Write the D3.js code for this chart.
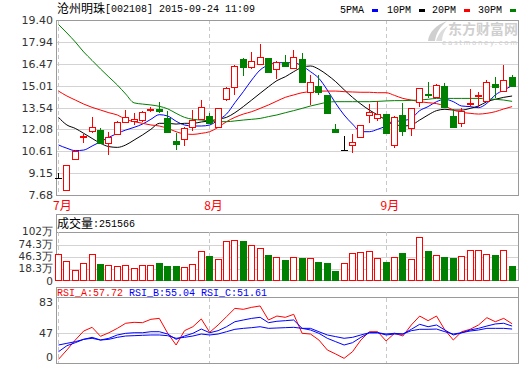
<!DOCTYPE html>
<html><head><meta charset="utf-8">
<script src="https://cdn.jsdelivr.net/npm/d3@7"></script>
<style>body{margin:0;background:#fff}svg{display:block}</style>
</head><body>
<svg id="c" width="520" height="365"></svg>
<script>
// ---------------- data ----------------
const stockName = "沧州明珠";
const stockCode = "[002108]";
const stamp = "2015-09-24 11:09";
const dates = ["07-08","07-09","07-10","07-13","07-14","07-15","07-16","07-17","07-20","07-21","07-22","07-23","07-24","07-27","07-28","07-29","07-30","07-31",
"08-03","08-04","08-05","08-06","08-07","08-10","08-11","08-12","08-13","08-14","08-17","08-18","08-19","08-20","08-21","08-24","08-25","08-26","08-27","08-28","08-31",
"09-01","09-02","09-07","09-08","09-09","09-10","09-11","09-14","09-15","09-16","09-17","09-18","09-21","09-22","09-23","09-24"];
const open  = [8.84,8.01,10.07,11.62,11.97,12.03,11.14,11.77,12.59,12.64,12.70,13.36,13.42,12.84,11.30,11.41,12.21,12.77,12.97,12.21,14.09,14.89,16.77,16.23,16.43,16.83,16.10,16.57,16.16,16.77,14.60,14.98,14.38,12.08,10.69,11.03,11.59,13.04,12.81,13.10,11.01,13.04,12.14,13.93,14.47,14.27,14.98,12.97,12.52,13.80,14.36,14.00,15.09,14.67,15.56];
const high  = [9.13,9.69,10.70,11.74,12.88,12.14,11.92,12.64,13.37,13.19,13.31,13.60,13.89,13.33,11.85,12.26,13.37,14.04,13.19,13.50,14.94,16.39,16.83,17.28,17.77,16.83,16.68,17.06,17.39,17.21,15.72,15.72,14.40,12.43,11.63,11.74,12.37,13.77,14.00,13.12,12.97,13.82,13.50,14.84,15.27,15.11,15.20,13.42,13.48,14.76,14.56,15.38,15.60,16.39,15.72];
const low   = [8.84,7.97,10.05,11.14,11.85,11.10,10.36,11.70,12.48,12.37,12.59,13.26,13.19,11.85,10.69,10.96,11.99,12.70,12.43,12.14,14.00,14.38,15.65,16.10,16.39,15.87,15.43,16.32,16.10,15.20,13.71,14.38,13.15,11.85,10.69,10.47,11.52,12.52,12.66,11.77,10.80,11.65,11.63,13.60,14.15,14.15,13.55,12.14,12.21,13.64,13.60,13.93,14.15,14.60,14.94];
const close = [8.84,9.69,10.63,11.66,12.26,11.14,11.59,12.57,12.88,12.77,13.24,13.42,13.33,11.92,11.12,12.14,12.70,13.55,12.48,13.48,14.82,16.34,16.28,16.68,16.90,15.94,16.57,16.34,16.90,15.27,15.27,14.60,13.19,11.92,10.69,11.21,12.35,13.26,13.10,11.81,12.93,11.99,13.48,14.82,14.40,15.05,13.60,12.21,13.33,13.84,14.40,15.27,14.94,15.38,15.00];
// volume in 万 shares
const volume = [53.3,37,16.6,32.3,53.3,30,27.6,25.3,27.6,20.6,27.6,27.6,32.3,25.3,25.3,23,30,60.3,48.6,41.6,82.8,85,82.8,74.3,66.6,51,45.6,39.3,45.6,44,43.2,34.6,32.3,15,31.5,55,57.6,59.9,43.2,34.6,45.6,55.6,40.9,90.7,60.3,50.3,46.3,44,48,62,62,53.3,51,62,25.1566];
const ma5  = [11.03,10.81,10.65,10.69,10.96,11.25,11.54,11.81,12.03,12.21,12.43,12.75,13.06,12.97,12.62,12.37,12.30,12.30,12.37,12.70,13.10,13.86,14.60,15.38,16.05,16.39,16.54,16.54,16.54,16.32,15.94,15.49,14.71,13.82,13.04,12.43,11.92,11.92,12.08,12.30,12.59,12.66,12.81,13.33,13.60,13.93,14.09,13.93,13.64,13.60,13.53,13.82,14.38,14.71,15.00];
const ma10 = [12.88,12.37,12.14,11.81,11.47,11.14,10.92,10.87,11.03,11.36,11.70,12.08,12.48,12.48,12.43,12.48,12.48,12.57,12.64,12.75,12.88,13.19,13.60,14.04,14.49,14.93,15.34,15.60,15.94,16.23,16.32,16.10,15.72,15.27,14.73,14.22,13.77,13.37,13.04,12.70,12.43,12.30,12.37,12.70,13.04,13.33,13.42,13.37,13.37,13.48,13.64,13.93,14.09,14.22,14.31];
const ma20 = [14.64,14.31,14.04,13.77,13.55,13.37,13.19,13.04,12.75,12.59,12.48,12.37,12.30,12.14,11.92,11.77,11.74,11.81,11.92,12.21,12.59,12.88,13.10,13.26,13.48,13.71,13.97,14.22,14.38,14.53,14.60,14.64,14.64,14.64,14.60,14.58,14.56,14.56,14.53,14.53,14.35,14.15,14.04,13.93,13.86,13.80,13.64,13.37,13.22,13.15,13.10,13.15,13.26,13.44,13.60];
const ma30 = [19.10,18.53,17.93,17.26,16.69,16.12,15.58,15.05,14.44,13.85,13.77,13.71,13.62,13.45,13.15,12.88,12.75,12.70,12.64,12.59,12.59,12.64,12.70,12.75,12.81,12.93,13.04,13.19,13.33,13.48,13.64,13.77,13.89,13.93,13.93,13.93,13.93,13.93,13.95,13.98,14.00,14.00,14.02,14.04,14.09,14.15,14.15,14.15,14.15,14.15,14.15,14.11,14.09,14.04,13.95];
const rsiA = [5.8,20.4,36,49.3,53.6,41.8,47.3,52.4,58.3,59.4,59,62.9,64,46.6,28.2,49.7,54.3,63.3,47.8,56.3,65.9,75.6,74.5,76.8,78.4,62.1,66.7,65.2,68.7,46.5,45.4,36,20.4,14.1,7.3,17.7,36,48.5,48.5,34.5,46.5,42.3,56.3,66.7,61.3,66.7,50.5,36,48.5,51.3,56.3,64.8,60.1,64,57.72];
const rsiB = [17.7,27.1,31.8,37.1,40.2,36,38.7,43.9,46.5,47.3,47.3,48.5,48.5,45.4,37.1,42.3,46.5,51.6,47.3,49.7,54.3,60.1,62.1,64,65.2,59,60.6,61.3,62.1,52.4,50.5,46.5,38.7,33.4,28.2,31.8,40.2,47.3,47.3,43.9,45.4,45.4,51.3,57.1,54.3,56.3,50.5,43.9,47.3,50.5,52.4,55.1,57.5,58.3,55.04];
const rsiC = [28.2,30.8,33.4,37.1,38.7,36,37.1,40.2,42.3,42.8,43.4,43.9,43.9,42.8,38.7,40.2,42.3,45.4,43.9,45.4,48.5,51.3,52.4,53.2,54.3,52.4,52.8,53.2,53.6,52.4,52.4,48.5,43.9,41.3,38.7,40.2,43.9,47.3,47.3,45.4,46.5,45.4,49.7,51.3,51.3,51.6,48.5,45.4,47.3,49.3,50.5,52.4,52.4,52.4,51.61];
const priceTicks = [7.68,9.15,10.61,12.08,13.54,15.01,16.47,17.94,19.40];
const volTicks = [0,18.3,46.3,74.3,102];
const volTickLabels = ["0","18.3万","46.3万","74.3万","102万"];
const rsiTicks = [0,47,83];
const monthTickDates = ["07-08","08-03","09-01"];
const monthTickLabels = ["7月","8月","9月"];
const maNames = ["5PMA","10PM","20PM","30PM"];
const maColors = ["#0000ff","#000000","#ff0000","#008000"];
const rsiNames = ["RSI_A","RSI_B","RSI_C"];
const rsiColors = ["#ff0000","#0000ff","#0000ff"];

// ---------------- layout ----------------
const svg = d3.select("#c");
const L = 56, R = 518;
const MONO = "'Liberation Mono','DejaVu Sans Mono',monospace";
const CJK = "'Noto Sans CJK SC','Noto Sans',sans-serif";
const NUM = "'DejaVu Sans',sans-serif";
const UP = "#ff0000", DN = "#008000", GRID = "#d3d3d3", FRAME = "#9a9a9a";

const x = d3.scalePoint().domain(dates).range([58.5, 512.1]);
const yP = d3.scaleLinear().domain([7.68, 19.40]).range([195, 20]);
const yV = d3.scaleLinear().domain(volTicks).range([280, 269, 257, 245, 232]);
const yR = d3.scaleLinear().domain(rsiTicks).range([363, 333, 302]);
const px = v => Math.round(v) + 0.5;

const g = svg.append("g").attr("shape-rendering", "crispEdges");

function frame(y0, y1) {
  g.append("rect").attr("x", L + 0.5).attr("y", y0 + 0.5).attr("width", R - L).attr("height", y1 - y0)
    .attr("fill", "none").attr("stroke", FRAME);
}
g.selectAll(".pg").data(priceTicks.slice(1, -1)).join("line")
  .attr("x1", L).attr("x2", R).attr("y1", d => px(yP(d))).attr("y2", d => px(yP(d))).attr("stroke", GRID);
g.selectAll(".vg").data(volTicks.slice(1, -1)).join("line")
  .attr("x1", L).attr("x2", R).attr("y1", d => px(yV(d))).attr("y2", d => px(yV(d))).attr("stroke", GRID);
g.append("line").attr("x1", L).attr("x2", R).attr("y1", px(yV(102))).attr("y2", px(yV(102))).attr("stroke", FRAME);
g.append("line").attr("x1", L).attr("x2", R).attr("y1", px(yR(47))).attr("y2", px(yR(47))).attr("stroke", GRID);
g.append("line").attr("x1", L).attr("x2", R).attr("y1", 297.5).attr("y2", 297.5).attr("stroke", FRAME);

monthTickDates.forEach(d => {
  const xx = px(x(d) - 0.5);
  [[20, 195], [232, 280], [298, 363]].forEach(([a, b]) => {
    g.append("line").attr("x1", xx).attr("x2", xx).attr("y1", a).attr("y2", b)
      .attr("stroke", "#c8c8c8").attr("stroke-dasharray", "4,3");
  });
});

frame(20, 195);
frame(214, 280);
frame(287, 363);

// ---- axis labels
const lab = svg.append("g").attr("font-family", NUM).attr("fill", "#333").attr("text-anchor", "end");
lab.selectAll(".pl").data(priceTicks).join("text").attr("font-size", 11)
  .attr("x", 53).attr("y", d => yP(d) + 4).text(d => d.toFixed(2));
lab.selectAll(".vl").data(volTicks).join("text").attr("font-size", 10.5)
  .attr("x", 53).attr("y", d => d === 0 ? yV(d) + 4.5 : yV(d) + 3).text((d, i) => volTickLabels[i]);
lab.selectAll(".rl").data(rsiTicks).join("text").attr("font-size", 11)
  .attr("x", 53).attr("y", d => Math.min(yR(d) + 4, 361)).text(d => d);

svg.selectAll(".ml").data(monthTickDates).join("text")
  .attr("x", d => x(d) - 5.5).attr("y", 210).attr("font-family", CJK).attr("font-size", 12).attr("fill", "#ff0000")
  .text((d, i) => monthTickLabels[i]);

// ---- MA lines
[ma5, ma10, ma20, ma30].forEach((arr, k) => {
  const line = d3.line().x((d, i) => x(dates[i])).y(d => yP(d)).curve(d3.curveMonotoneX);
  svg.append("path").attr("d", line(arr)).attr("fill", "none").attr("stroke", maColors[k]).attr("stroke-width", 1);
});

// ---- candles
const cg = svg.append("g").attr("shape-rendering", "crispEdges");
dates.forEach((d, i) => {
  const k = Math.round(x(d) - 0.5);
  const cx = k + 0.5;
  const o = open[i], c = close[i], h = high[i], l = low[i];
  const yo = Math.round(yP(o)), yc = Math.round(yP(c)), yh = Math.round(yP(h)), yl = Math.round(yP(l));
  if (c === o) {
    cg.append("line").attr("x1", cx).attr("x2", cx).attr("y1", yh).attr("y2", yl).attr("stroke", "#000");
    cg.append("line").attr("x1", k - 3).attr("x2", k + 4).attr("y1", yo + 0.5).attr("y2", yo + 0.5).attr("stroke", "#000");
  } else if (c > o) {
    const top = yc, bot = yo;
    cg.append("line").attr("x1", cx).attr("x2", cx).attr("y1", yh).attr("y2", top).attr("stroke", UP);
    cg.append("line").attr("x1", cx).attr("x2", cx).attr("y1", bot).attr("y2", yl).attr("stroke", UP);
    cg.append("rect").attr("x", k - 2.5).attr("y", top + 0.5).attr("width", 6).attr("height", Math.max(1, bot - top))
      .attr("fill", "#fff").attr("stroke", UP);
  } else {
    cg.append("line").attr("x1", cx).attr("x2", cx).attr("y1", yh).attr("y2", yl).attr("stroke", DN);
    cg.append("rect").attr("x", k - 3).attr("y", yo).attr("width", 7).attr("height", Math.max(2, yc - yo + 1))
      .attr("fill", DN);
  }
});

// ---- volume bars
const vg = svg.append("g").attr("shape-rendering", "crispEdges");
dates.forEach((d, i) => {
  const k = Math.round(x(d) - 0.5);
  const top = Math.round(yV(volume[i])), base = 280;
  if (close[i] >= open[i]) {
    vg.append("rect").attr("x", k - 2.5).attr("y", top + 0.5).attr("width", 6).attr("height", base - top)
      .attr("fill", "#fff").attr("stroke", UP);
  } else {
    vg.append("rect").attr("x", k - 3).attr("y", top).attr("width", 7).attr("height", base - top + 1).attr("fill", DN);
  }
});

// ---- RSI
[rsiA, rsiB, rsiC].forEach((arr, k) => {
  const line = d3.line().x((d, i) => x(dates[i])).y(d => yR(d));
  svg.append("path").attr("d", line(arr)).attr("fill", "none").attr("stroke", rsiColors[k]).attr("stroke-width", 1);
});

// ---- title
const t = svg.append("text").attr("x", 57).attr("y", 13).attr("fill", "#000");
t.append("tspan").attr("font-family", CJK).attr("font-size", 12).text(stockName);
t.append("tspan").attr("font-family", MONO).attr("font-size", 10).attr("dy", -1).text(stockCode + " " + stamp);

// legend
const legX = [340, 387, 432, 478];
maNames.forEach((n, k) => {
  svg.append("text").attr("x", legX[k]).attr("y", 13).attr("font-family", MONO).attr("font-size", 10).attr("fill", "#000").text(n);
  svg.append("rect").attr("x", legX[k] + 32).attr("y", 9).attr("width", 6).attr("height", 3).attr("fill", maColors[k]);
});

// watermark
const wm = svg.append("g").attr("fill", "#cfcfcf");
wm.append("path").attr("d", "M428,41 C429,32 436,25 447,21 C440,27 436,33 435,41 Z");
wm.append("path").attr("d", "M436,41 C438,34 442,29 448,26 C444,31 442,36 442,41 Z").attr("fill", "#dcdcdc");
wm.append("text").attr("x", 448).attr("y", 34).attr("font-family", CJK).attr("font-weight", "bold")
  .attr("font-size", 14).attr("textLength", 70).text("东方财富网");
wm.append("text").attr("x", 442).attr("y", 45).attr("font-family", NUM).attr("font-size", 7)
  .attr("textLength", 75).text("eastmoney.com");

// volume header
const vh = svg.append("text").attr("x", 57).attr("y", 228).attr("fill", "#000");
vh.append("tspan").attr("font-family", CJK).attr("font-size", 12).text("成交量");
vh.append("tspan").attr("font-family", MONO).attr("font-size", 10).attr("dy", -1)
  .text(":" + Math.round(volume[volume.length - 1] * 10000));

// RSI header
const rsiLast = [rsiA, rsiB, rsiC].map(a => a[a.length - 1]);
const rX = [57, 129, 201];
rsiNames.forEach((n, k) => {
  svg.append("text").attr("x", rX[k]).attr("y", 296).attr("font-family", MONO).attr("font-size", 10)
    .attr("fill", rsiColors[k]).text(n + ":" + rsiLast[k].toFixed(2));
});
</script>
</body></html>
